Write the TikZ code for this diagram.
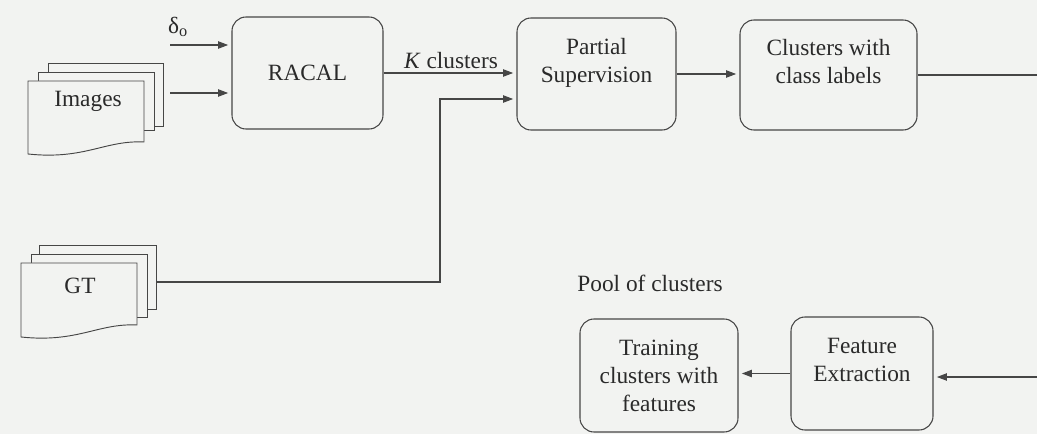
\documentclass[tikz,border=0pt]{standalone}
\usepackage{fontspec}
\setmainfont{Liberation Serif}
\usetikzlibrary{arrows.meta}
\definecolor{paper}{RGB}{242,243,241}
\definecolor{ink}{RGB}{70,70,70}
\definecolor{txt}{RGB}{42,42,42}
\begin{document}
\begin{tikzpicture}[x=0.75pt,y=-0.75pt,
  every node/.style={text=txt, font=\fontsize{17.5}{21}\selectfont},
  proc/.style={draw=ink, line width=0.8pt, rounded corners=10.5pt, align=center, inner sep=0pt},
  sheet/.style={draw=ink, line width=0.7pt, fill=paper},
  flow/.style={draw=ink, line width=0.8pt, shorten >=2.5pt, -{Triangle[length=7.5pt,width=5.5pt]}},
  wire/.style={draw=ink, line width=0.8pt},
]
% page background
\fill[paper] (0,0) rectangle (1037,434);
\useasboundingbox (0,0) rectangle (1037,434);

% stack of input images
\path[sheet] (48,63) rectangle (163,126);
\path[sheet] (38,72) rectangle (154,130);
\path[sheet] (28,81) -- (144,81) -- (144,142) .. controls (105,140) and (85,160) .. (28,154) -- cycle;
\node (images) at (88,101) {Images};

% stack of ground-truth sheets
\path[sheet] (39,245) rectangle (156,309);
\path[sheet] (31,254) rectangle (147,317);
\path[sheet] (21,263) -- (137,263) -- (137,325) .. controls (98,323) and (78,343) .. (21,337) -- cycle;
\node (gt) at (80,286) {GT};

% processing blocks
\node[proc, minimum width=151*0.75pt, minimum height=112*0.75pt] (racal) at (307.5,73) {RACAL};
\node[proc, minimum width=159*0.75pt, minimum height=112*0.75pt] (partial) at (596.5,74) {Partial\\Supervision\\~};
\node[proc, minimum width=177*0.75pt, minimum height=110*0.75pt] (clus) at (828.5,75) {Clusters with\\class labels\\~};
\node[proc, minimum width=158*0.75pt, minimum height=113*0.75pt] (train) at (659,375.5) {Training\\clusters with\\features};
\node[proc, minimum width=142*0.75pt, minimum height=113*0.75pt] (feat) at (862,373.5) {Feature\\Extraction\\~};

% labels
\node (delta) at (178,27) {δ\textsubscript{o}};
\node (klab) at (451,61) {\textit{K} clusters};
\node (pool) at (650,283) {Pool of clusters};

% free ends of connectors
\coordinate (din) at (170,45);
\coordinate (imgout) at (170,93);
\coordinate (gtout) at (156,282);
\coordinate (bend) at (440,99);
\coordinate (eout) at (1037,75);
\coordinate (ein) at (1037,377);

% connectors
\draw[flow] (din) -- (din -| racal.west);
\draw[flow] (imgout) -- (imgout -| racal.west);
\draw[flow] (racal.east) -- (partial.west |- racal.east);
\draw[flow] (gtout) -| (bend) -- (partial.west |- bend);
\draw[flow] (partial.east) -- (clus.west |- partial.east);
\draw[wire] (clus.east) -- (eout);
\draw[flow] (ein) -- (feat.east |- ein);
\draw[flow] (feat.west) -- (train.east |- feat.west);
\end{tikzpicture}
\end{document}
